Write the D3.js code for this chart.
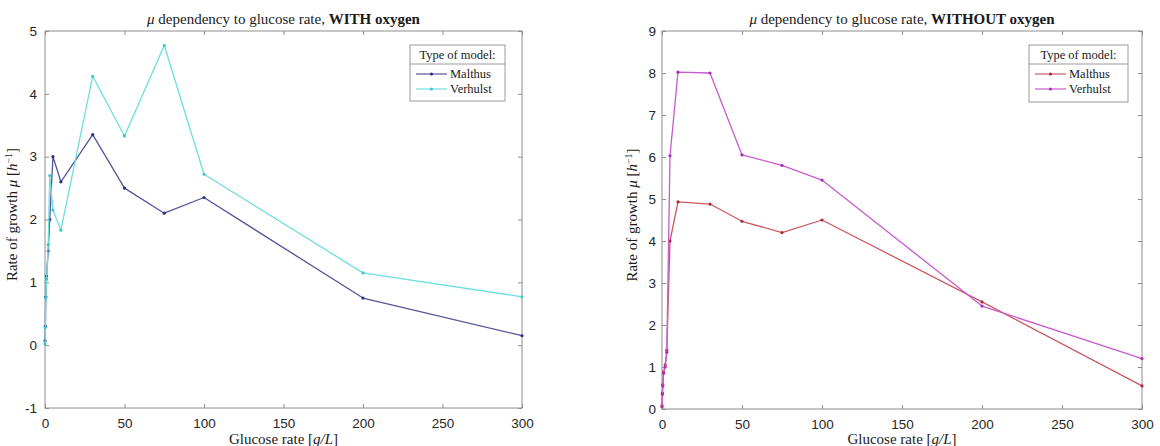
<!DOCTYPE html>
<html>
<head>
<meta charset="utf-8">
<script src="https://cdn.jsdelivr.net/npm/d3@7"></script>
<style>
  html, body { margin: 0; padding: 0; background: #fff; }
  svg { display: block; }
</style>
</head>
<body>
<svg id="chart" width="1160" height="446"></svg>
<script>
// ---- data ----
const glucose = [0, 0.25, 0.5, 1, 2, 3, 5, 10, 30, 50, 75, 100, 200, 300];

const withO2Malthus  = [0.07, 0.3, 0.77, 1.1, 1.5, 2.0, 3.0, 2.6, 3.35, 2.5, 2.1, 2.35, 0.75, 0.15];
const withO2Verhulst = [0.02, 0.28, 0.75, 1.05, 1.6, 2.7, 2.15, 1.83, 4.28, 3.33, 4.77, 2.72, 1.15, 0.77];

const withoutO2Malthus  = [0.08, 0.38, 0.58, 0.88, 1.05, 1.4, 4.0, 4.93, 4.88, 4.47, 4.2, 4.5, 2.55, 0.55];
const withoutO2Verhulst = [0.05, 0.35, 0.55, 0.85, 1.0, 1.35, 6.03, 8.02, 8.0, 6.05, 5.8, 5.45, 2.45, 1.2];

const xTicks = [0, 50, 100, 150, 200, 250, 300];
const yTicksWith = [-1, 0, 1, 2, 3, 4, 5];
const yTicksWithout = [0, 1, 2, 3, 4, 5, 6, 7, 8, 9];
const seriesNames = ["Malthus", "Verhulst"];
const legendTitle = "Type of model:";

// ---- drawing ----
const svg = d3.select("#chart");
const serif = "'Liberation Serif', 'DejaVu Serif', serif";
const sans = "'Liberation Sans', Arial, sans-serif";
const axisColor = "#8e8e8e";
const plain = d => String(d);

function panel(opts) {
  const g = svg.append("g");
  const x = d3.scaleLinear().domain([0, 300]).range([opts.left, opts.right]);
  const y = d3.scaleLinear().domain(opts.yDomain).range([opts.bottom, opts.top]);

  // box
  g.append("rect")
    .attr("x", opts.left).attr("y", opts.top)
    .attr("width", opts.right - opts.left).attr("height", opts.bottom - opts.top)
    .attr("fill", "none").attr("stroke", axisColor).attr("stroke-width", 1);

  // axes with inward ticks
  const tl = 4;
  const styleAxis = sel => {
    sel.select(".domain").remove();
    sel.selectAll(".tick line").attr("stroke", axisColor);
    sel.selectAll(".tick text").attr("fill", "#262626")
      .attr("font-family", sans).attr("font-size", "13.5px");
  };
  g.append("g").attr("transform", `translate(0,${opts.bottom})`)
    .call(d3.axisBottom(x).tickValues(xTicks).tickSize(-tl).tickPadding(10).tickFormat(plain))
    .call(styleAxis);
  g.append("g").attr("transform", `translate(0,${opts.top})`)
    .call(d3.axisTop(x).tickValues(xTicks).tickSize(-tl).tickFormat(""))
    .call(styleAxis);
  g.append("g").attr("transform", `translate(${opts.left},0)`)
    .call(d3.axisLeft(y).tickValues(opts.yTicks).tickSize(-tl).tickPadding(opts.yPad).tickFormat(plain))
    .call(styleAxis);
  g.append("g").attr("transform", `translate(${opts.right},0)`)
    .call(d3.axisRight(y).tickValues(opts.yTicks).tickSize(-tl).tickFormat(""))
    .call(styleAxis);

  // series
  const line = d3.line().x((d, i) => x(glucose[i])).y(d => y(d));
  opts.series.forEach((s, k) => {
    g.append("path").datum(s.values)
      .attr("d", line).attr("fill", "none")
      .attr("stroke", s.color).attr("stroke-width", 1.3)
      .attr("stroke-linejoin", "round");
    g.selectAll(null).data(s.values).enter().append("circle")
      .attr("cx", (d, i) => x(glucose[i])).attr("cy", d => y(d))
      .attr("r", 1.6).attr("fill", s.marker);
  });

  // title
  const cx = (opts.left + opts.right) / 2;
  const t = g.append("text").attr("x", cx).attr("y", 24)
    .attr("text-anchor", "middle").attr("font-family", serif)
    .attr("font-size", "15px").attr("fill", "#1a1a1a");
  t.append("tspan").attr("font-style", "italic").text("μ");
  t.append("tspan").text(" dependency to glucose rate, ");
  t.append("tspan").attr("font-weight", "bold").text(opts.titleBold);

  // x label
  const xl = g.append("text").attr("x", cx).attr("y", 444)
    .attr("text-anchor", "middle").attr("font-family", serif)
    .attr("font-size", "15px").attr("fill", "#1a1a1a");
  xl.append("tspan").text("Glucose rate [");
  xl.append("tspan").attr("font-style", "italic").text("g/L");
  xl.append("tspan").text("]");

  // y label
  const cy = (opts.top + opts.bottom) / 2 - 5;
  const yl = g.append("text")
    .attr("transform", `translate(${opts.yLabelX},${cy}) rotate(-90)`)
    .attr("text-anchor", "middle").attr("font-family", serif)
    .attr("font-size", "15px").attr("fill", "#1a1a1a");
  yl.append("tspan").text("Rate of growth ");
  yl.append("tspan").attr("font-style", "italic").text("μ");
  yl.append("tspan").text(" [");
  yl.append("tspan").attr("font-style", "italic").text("h");
  yl.append("tspan").attr("baseline-shift", "super").attr("font-size", "10px").text("−1");
  yl.append("tspan").text("]");

  // legend
  const L = opts.legend;
  const lg = g.append("g");
  lg.append("rect").attr("x", L.x).attr("y", L.y).attr("width", L.w).attr("height", L.h)
    .attr("fill", "#fff").attr("stroke", "#9a9a9a").attr("stroke-width", 1);
  lg.append("line").attr("x1", L.x).attr("x2", L.x + L.w)
    .attr("y1", L.y + 19).attr("y2", L.y + 19)
    .attr("stroke", "#9a9a9a").attr("stroke-width", 1);
  lg.append("text").attr("x", L.x + L.w / 2).attr("y", L.y + 14)
    .attr("text-anchor", "middle").attr("font-family", serif)
    .attr("font-size", "12.5px").attr("fill", "#1a1a1a").text(legendTitle);
  opts.series.forEach((s, k) => {
    const yy = L.y + 29 + k * 15;
    lg.append("line").attr("x1", L.x + 6).attr("x2", L.x + 37)
      .attr("y1", yy).attr("y2", yy).attr("stroke", s.color).attr("stroke-width", 1.2);
    lg.append("circle").attr("cx", L.x + 21.5).attr("cy", yy).attr("r", 1.6).attr("fill", s.marker);
    lg.append("text").attr("x", L.x + 40).attr("y", yy + 4)
      .attr("font-family", serif).attr("font-size", "12.5px").attr("fill", "#1a1a1a")
      .text(seriesNames[k]);
  });
}

panel({
  left: 45, right: 522, top: 31, bottom: 408,
  yDomain: [-1, 5], yTicks: yTicksWith, yPad: 8, yLabelX: 17,
  titleBold: "WITH oxygen",
  series: [
    { values: withO2Malthus, color: "#55559a", marker: "#2e2e88" },
    { values: withO2Verhulst, color: "#6fdede", marker: "#3fc8c8" }
  ],
  legend: { x: 410, y: 45, w: 95, h: 56 }
});

panel({
  left: 662, right: 1142, top: 31, bottom: 409,
  yDomain: [0, 9], yTicks: yTicksWithout, yPad: 6, yLabelX: 637,
  titleBold: "WITHOUT oxygen",
  series: [
    { values: withoutO2Malthus, color: "#c95a64", marker: "#b02a3a" },
    { values: withoutO2Verhulst, color: "#c85ad0", marker: "#a830b8" }
  ],
  legend: { x: 1029, y: 45, w: 99, h: 57 }
});
</script>
</body>
</html>
